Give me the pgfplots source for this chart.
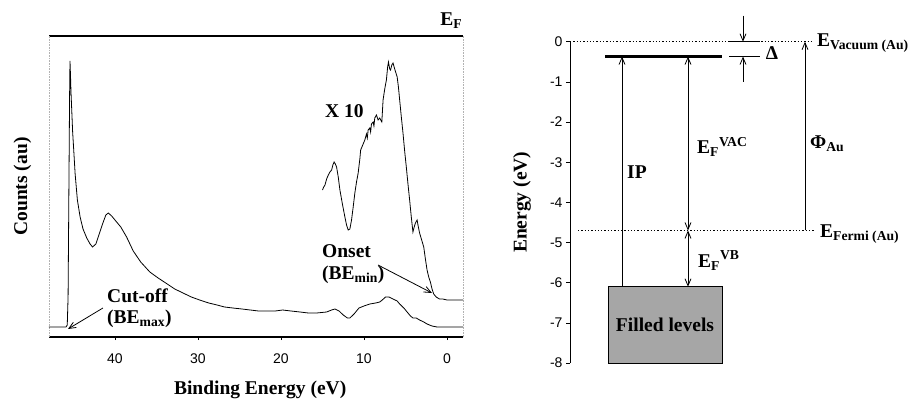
\documentclass[border=0pt]{standalone}
\usepackage{fontspec}
\setmainfont{Liberation Serif}
\newfontfamily\arial{Liberation Sans}
\usepackage{pgfplots}
\pgfplotsset{compat=1.18}
\usetikzlibrary{arrows.meta}
\newcommand{\lab}{\bfseries\fontsize{19.5}{22}\selectfont}
\tikzset{lbl/.style={font=\lab, inner sep=0pt},
  tip/.style={-{Straight Barb[length=7pt,width=6pt]}},
  dtip/.style={{Straight Barb[length=7pt,width=6pt]}-{Straight Barb[length=7pt,width=6pt]}}}
\begin{document}
\begin{tikzpicture}[x=1pt,y=1pt]
\useasboundingbox (0,0) rectangle (908,400);
% ---------------- left panel: spectrum ----------------
\begin{axis}[
 at={(49pt,63pt)}, anchor=south west,
 scale only axis, width=414pt, height=301pt,
 x dir=reverse, xmin=-1.93, xmax=47.95, ymin=0, ymax=301,
 clip=false,
 separate axis lines,
 x axis line style={black, line width=1.2pt},
 y axis line style={gray!60, densely dotted, line width=0.6pt},
 xtick={0,10,20,30,40}, xtick pos=bottom, ytick=\empty,
 tick align=outside, major tick length=3pt, tick style={black, line width=0.6pt},
 xticklabel style={font=\arial\fontsize{14}{14}\selectfont, yshift=-10pt},
 /pgf/number format/assume math mode=true,
 xlabel={Binding Energy (eV)}, ylabel={Counts (au)},
 label style={font=\lab},
 xlabel style={at={(axis description cs:0.51,-0.176)}, anchor=center},
 ylabel style={at={(axis description cs:-0.064,0.5)}, anchor=center},
]
\addplot[black, line width=0.8pt] coordinates {
(47.95,10) (46.5,10) (45.9,10) (45.75,12) (45.65,40) (45.55,150) (45.47,240) (45.42,276) (45.36,262) (45.3,245) (45.2,225) (45.1,205) (44.97,187) (44.8,163) (44.53,137) (44.2,120) (43.85,108) (43.4,99) (43.0,93) (42.7,90) (42.3,93) (41.9,103) (41.5,113) (41.1,122) (40.8,124) (40.4,121) (39.9,116) (39.3,110) (38.6,100) (37.8,86) (36.9,75) (35.8,65) (34.8,59) (33.7,53) (32.8,48) (31.8,44) (30.8,40) (29.8,37) (28.7,34) (27.7,32) (26.8,30) (25.8,29) (24.7,28) (23.7,27) (22.7,26) (21.7,26) (20.7,26) (19.8,27) (18.8,26) (17.7,25) (16.7,24) (15.7,24) (14.5,25) (13.9,27) (13.5,28) (13.0,26) (12.5,22) (12.0,19) (11.7,19) (11.2,23) (10.6,29) (10.0,31) (9.3,33) (8.6,34) (8.1,35) (7.8,37) (7.4,40) (7.0,40) (6.5,38) (6.0,36) (5.7,33) (5.2,29) (4.8,25) (4.4,21) (4.1,19) (3.7,19) (3.3,17) (2.8,15) (2.4,13) (1.8,11) (1.2,10) (0.5,10) (-1.93,10)
};
\addplot[black, line width=0.8pt] coordinates {
(15.0,147) (14.85,150) (14.7,152) (14.5,158) (14.3,162) (14.1,165) (13.9,167) (13.75,172) (13.6,175) (13.45,173) (13.3,170) (13.1,160) (12.9,147) (12.6,133) (12.3,120) (12.1,112) (11.9,107) (11.7,108) (11.5,117) (11.3,130) (11.1,144) (10.9,155) (10.7,164) (10.5,178) (10.4,187) (10.1,193) (9.9,197) (9.7,203) (9.6,199) (9.5,207) (9.3,209) (9.2,205) (9.1,213) (8.9,215) (8.8,211) (8.7,219) (8.5,222) (8.3,217) (8.1,219) (7.85,215) (7.7,237) (7.5,248) (7.3,257) (7.15,270) (7.05,275) (6.9,268) (6.8,267) (6.65,272) (6.5,274) (6.3,268) (6.0,260) (5.85,250) (5.7,237) (5.5,220) (5.3,204) (5.1,186) (4.9,170) (4.7,153) (4.5,137) (4.3,120) (4.1,105) (3.95,110) (3.8,114) (3.6,117) (3.45,110) (3.3,104) (3.05,97) (2.8,90) (2.6,78) (2.4,67) (2.2,60) (2.0,55) (1.8,48) (1.6,43) (1.3,40) (0.9,38) (0.5,38) (0,37) (-1.93,37)
};
\addplot[black, line width=0.8pt, tip] coordinates {(8.31,72) (1.81,44)};
\addplot[black, line width=0.8pt, tip] coordinates {(41.45,29) (45.66,8)};
\node[lbl, anchor=base west] at (axis cs:14.7,220) {X 10};
\node[lbl, anchor=base west] at (axis cs:15.06,80) {Onset};
\node[lbl, anchor=base west] at (axis cs:15.06,58) {(BE\textsubscript{min})};
\node[lbl, anchor=base west] at (axis cs:40.96,35) {Cut-off};
\node[lbl, anchor=base west] at (axis cs:40.96,14) {(BE\textsubscript{max})};
\node[lbl, anchor=base east] at (axis cs:-1.85,312) {E\textsubscript{F}};
\end{axis}
% ---------------- right panel: energy diagram ----------------
\begin{axis}[
 at={(570pt,37pt)}, anchor=south west, scale only axis, width=338pt, height=321.3pt,
 xmin=570, xmax=908, ymin=-8, ymax=0, clip=false,
 axis x line=none, axis y line*=left,
 axis line style={-, line width=0.8pt},
 ytick={-8,-7,-6,-5,-4,-3,-2,-1,0}, tick align=outside, major tick length=4pt,
 tick style={black, line width=0.6pt},
 yticklabel style={font=\arial\fontsize{14}{14}\selectfont},
 /pgf/number format/assume math mode=true,
 ylabel={Energy (eV)},
 ylabel style={font=\lab, at={(axis description cs:-0.142,0.5)}, anchor=center},
]
\addplot[black, dotted, line width=1.3pt] coordinates {(570,0) (814,0)};
\addplot[black, dotted, line width=1.3pt] coordinates {(578,-4.7) (814,-4.7)};
\addplot[black, line width=3pt] coordinates {(605,-0.37) (722,-0.37)};
\addplot[draw=black, fill=black!35, line width=0.6pt] coordinates {(608,-6.1) (722,-6.1) (722,-8) (608,-8) (608,-6.1)};
\addplot[black, line width=0.8pt, tip] coordinates {(622,-6.1) (622,-0.37)};
\addplot[black, line width=0.8pt, dtip] coordinates {(688,-0.37) (688,-4.7)};
\addplot[black, line width=0.8pt, dtip] coordinates {(688,-4.7) (688,-6.1)};
\addplot[black, line width=0.8pt, tip] coordinates {(805,-4.7) (805,0)};
\addplot[black, line width=0.8pt] coordinates {(729,0) (760,0)};
\addplot[black, line width=0.8pt] coordinates {(729,-0.37) (760,-0.37)};
\addplot[black, line width=0.8pt, tip] coordinates {(743,0.65) (743,0)};
\addplot[black, line width=0.8pt, tip] coordinates {(743,-1.0) (743,-0.37)};
\node[lbl, anchor=west] at (axis cs:817,-0.03) {E\textsubscript{Vacuum (Au)}};
\node[lbl, anchor=west] at (axis cs:820,-4.8) {E\textsubscript{Fermi (Au)}};
\node[lbl, anchor=west] at (axis cs:810,-2.55) {Φ\textsubscript{Au}};
\node[lbl] at (axis cs:772,-0.28) {Δ};
\node[lbl, anchor=west] at (axis cs:627,-3.24) {IP};
\node[lbl, anchor=west] at (axis cs:697,-2.62) {E\textsubscript{F}\textsuperscript{VAC}};
\node[lbl, anchor=west] at (axis cs:698,-5.45) {E\textsubscript{F}\textsuperscript{VB}};
\node[lbl] at (axis cs:665,-7.05) {Filled levels};
\end{axis}
\end{tikzpicture}
\end{document}
